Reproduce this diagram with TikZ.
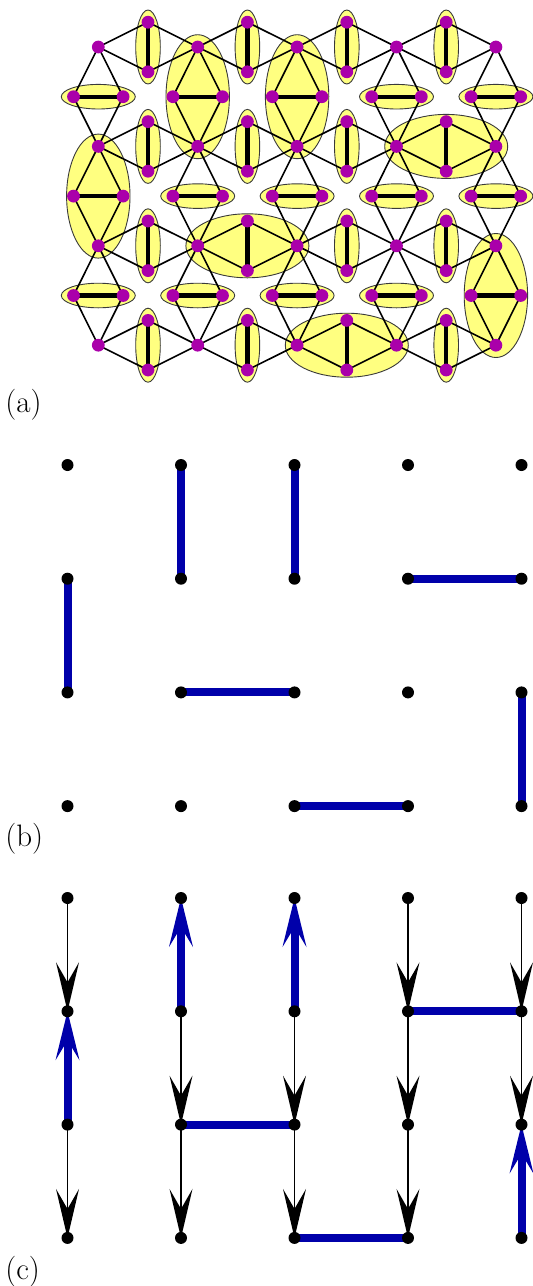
\documentclass[tikz,border=0pt]{standalone}
\usepackage{fontspec}
\usepackage{tikz}
\usetikzlibrary{arrows.meta,calc,shapes.geometric}
\usepackage{xcolor}
\definecolor{dimerpurple}{HTML}{AA00AA}
\definecolor{clusteryellow}{HTML}{FFFF80}
\definecolor{ringdark}{HTML}{3A3A3A}
\definecolor{bondblue}{HTML}{0000AA}

\begin{document}
\begin{tikzpicture}[
  x=0.5pt, y=-0.5pt,
  panellabel/.style={
    anchor=base west,
    inner sep=0pt,
    font=\fontsize{15.5}{18}\selectfont
  },
  smallvring/.style={
    ellipse,
    draw=ringdark,
    fill=clusteryellow,
    line width=0.45pt,
    inner sep=0pt,
    minimum width=12.3pt,
    minimum height=37pt
  },
  smallhring/.style={smallvring, minimum width=37pt, minimum height=12.3pt},
  bigvring/.style={smallvring, minimum width=31.7pt, minimum height=62pt},
  bighring/.style={smallvring, minimum width=61.5pt, minimum height=32pt},
  sitelink/.style={draw=black, line width=0.8pt, line join=round},
  dimerbar/.style={draw=black, line width=2.2pt},
  sitedot/.style={circle, fill=dimerpurple, inner sep=0pt, minimum size=6.4pt},
  latticedot/.style={circle, fill=black, inner sep=0pt, minimum size=6pt},
  bluebond/.style={draw=bondblue, line width=4pt},
  flowarrow/.style={
    -{Stealth[length=24.5pt, width=11.5pt, inset=10pt, line width=0pt]},
    draw=black,
    line width=0.8pt
  },
  blueflow/.style={
    -{Stealth[length=24.5pt, width=12pt, inset=10pt, line width=0pt]},
    draw=bondblue,
    line width=4pt
  }
]
  \useasboundingbox (0,0) rectangle (532,1286);

  % -------------------------------------------------------------
  % PANEL (a): DECORATED LATTICE WITH CLUSTERS
  % -------------------------------------------------------------

  % hubs
  \foreach \i in {1,...,5}
    \foreach \j in {1,...,4}
      \coordinate (h-\i-\j) at ({98.3+99.4*(\i-1)},{47+99.4*(\j-1)});

  % vertical dimers on the horizontal bonds
  \foreach \i [count=\k from 2] in {1,...,4}
    \foreach \j in {1,...,4} {
      \coordinate (hm-\i-\j) at ($(h-\i-\j)!0.5!(h-\k-\j)$);
      \coordinate (ht-\i-\j) at ($(hm-\i-\j)+(0,-24.8)$);
      \coordinate (hb-\i-\j) at ($(hm-\i-\j)+(0,24.8)$);
    }

  % horizontal dimers on the vertical bonds
  \foreach \i in {1,...,5}
    \foreach \j [count=\k from 2] in {1,...,3} {
      \coordinate (vm-\i-\j) at ($(h-\i-\j)!0.5!(h-\i-\k)$);
      \coordinate (vl-\i-\j) at ($(vm-\i-\j)+(-24.8,0)$);
      \coordinate (vr-\i-\j) at ($(vm-\i-\j)+(24.8,0)$);
    }

  % yellow clusters
  \foreach \i/\j in {1/1,2/1,3/1,4/1,1/2,2/2,3/2,1/3,3/3,4/3,1/4,2/4,4/4}
    \node[smallvring] (rh-\i-\j) at (hm-\i-\j) {};
  \foreach \i/\j in {1/1,4/1,5/1,2/2,3/2,4/2,5/2,1/3,2/3,3/3,4/3}
    \node[smallhring] (rv-\i-\j) at (vm-\i-\j) {};
  \foreach \i/\j in {2/1,3/1,1/2,5/3}
    \node[bigvring] (cv-\i-\j) at (vm-\i-\j) {};
  \foreach \i/\j in {4/2,2/3,3/4}
    \node[bighring] (ch-\i-\j) at (hm-\i-\j) {};

  % links from hubs to dimer sites
  \foreach \i [count=\k from 2] in {1,...,4}
    \foreach \j in {1,...,4}
      \draw[sitelink] (h-\i-\j) -- (ht-\i-\j) -- (h-\k-\j) -- (hb-\i-\j) -- cycle;
  \foreach \i in {1,...,5}
    \foreach \j [count=\k from 2] in {1,...,3}
      \draw[sitelink] (h-\i-\j) -- (vl-\i-\j) -- (h-\i-\k) -- (vr-\i-\j) -- cycle;

  % dimer bars
  \foreach \i in {1,...,4}
    \foreach \j in {1,...,4}
      \draw[dimerbar] (ht-\i-\j) -- (hb-\i-\j);
  \foreach \i in {1,...,5}
    \foreach \j in {1,...,3}
      \draw[dimerbar] (vl-\i-\j) -- (vr-\i-\j);

  % purple sites
  \foreach \i in {1,...,5}
    \foreach \j in {1,...,4}
      \node[sitedot] (sh-\i-\j) at (h-\i-\j) {};
  \foreach \i in {1,...,4}
    \foreach \j in {1,...,4} {
      \node[sitedot] (st-\i-\j) at (ht-\i-\j) {};
      \node[sitedot] (sb-\i-\j) at (hb-\i-\j) {};
    }
  \foreach \i in {1,...,5}
    \foreach \j in {1,...,3} {
      \node[sitedot] (sl-\i-\j) at (vl-\i-\j) {};
      \node[sitedot] (sr-\i-\j) at (vr-\i-\j) {};
    }

  \node[panellabel] (la) at (5,412) {(a)};

  % -------------------------------------------------------------
  % PANEL (b): DIMER COVERING
  % -------------------------------------------------------------
  \foreach \i in {1,...,5}
    \foreach \j in {1,...,4}
      \coordinate (b-\i-\j) at ({67.5+113.5*(\i-1)},{465+113.7*(\j-1)});

  \foreach \p/\q in {1-2/1-3, 2-1/2-2, 3-1/3-2, 4-2/5-2, 2-3/3-3, 5-3/5-4, 3-4/4-4}
    \draw[bluebond] (b-\p) -- (b-\q);

  \foreach \i in {1,...,5}
    \foreach \j in {1,...,4}
      \node[latticedot] (pb-\i-\j) at (b-\i-\j) {};

  \node[panellabel] (lb) at (5,846) {(b)};

  % -------------------------------------------------------------
  % PANEL (c): ORIENTED STRINGS
  % -------------------------------------------------------------
  \foreach \i in {1,...,5}
    \foreach \j in {1,...,4}
      \coordinate (c-\i-\j) at ({67.5+113.5*(\i-1)},{898+113.3*(\j-1)});

  % downward links
  \foreach \p/\q in {1-1/1-2, 1-3/1-4, 2-2/2-3, 2-3/2-4, 3-2/3-3, 3-3/3-4,
                     4-1/4-2, 4-2/4-3, 4-3/4-4, 5-1/5-2, 5-2/5-3}
    \draw[flowarrow] (c-\p) -- (c-\q);

  % vertical dimers point up
  \foreach \p/\q in {1-3/1-2, 2-2/2-1, 3-2/3-1, 5-4/5-3}
    \draw[blueflow] (c-\p) -- (c-\q);

  % horizontal dimers
  \foreach \p/\q in {4-2/5-2, 2-3/3-3, 3-4/4-4}
    \draw[bluebond] (c-\p) -- (c-\q);

  \foreach \i in {1,...,5}
    \foreach \j in {1,...,4}
      \node[latticedot] (pc-\i-\j) at (c-\i-\j) {};

  \node[panellabel] (lc) at (5,1279) {(c)};

\end{tikzpicture}
\end{document}
